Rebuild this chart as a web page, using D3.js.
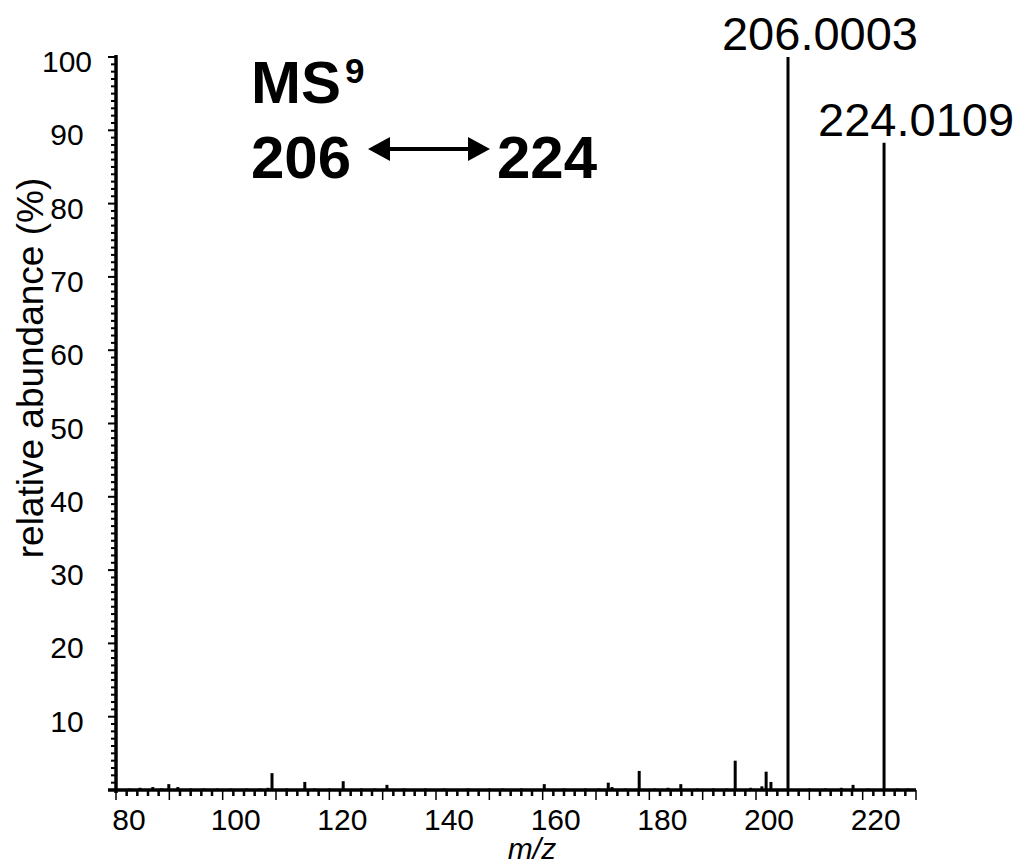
<!DOCTYPE html>
<html><head><meta charset="utf-8">
<script src="https://cdn.jsdelivr.net/npm/d3@7"></script>
<style>body{margin:0;background:#fff;} text{font-family:"Liberation Sans",Arial,sans-serif;}</style>
</head><body>
<svg id="chart" width="1020" height="868"></svg>
<script>
// Data
const mzValues = [82.5,84.5,86.9,88.5,89.9,91.6,94,96.5,99,101.5,104.5,107,108.5,109.25,112,115.4,117.2,120,122.6,126,128.5,130.8,134,138,141.5,146,150,152.5,156,160.3,164,168,170.5,172.3,173.0,175.5,178.1,181,183.5,185.9,189,192,194.5,196.1,199,201.1,201.9,202.8,206.0003,210,213,216,218.2,221,224.0109,226.5,228.5];
const abundance = [0.2,0.3,0.4,0.2,0.8,0.4,0.2,0.2,0.2,0.2,0.2,0.2,0.3,2.3,0.2,1.1,0.2,0.2,1.2,0.2,0.2,0.7,0.2,0.2,0.2,0.2,0.2,0.2,0.2,0.8,0.2,0.2,0.2,1.0,0.4,0.2,2.6,0.2,0.3,0.8,0.2,0.2,0.2,4.0,0.3,0.5,2.5,1.1,100,0.2,0.2,0.3,0.7,0.2,88.3,0.2,0.2];
const peakLabels = [{mz:206.0003, text:"206.0003"},{mz:224.0109, text:"224.0109"}];
const xTickLabels = [80,100,120,140,160,180,200,220];
const yTickLabels = [10,20,30,40,50,60,70,80,90,100];
const xDomain = [80,230];
const yDomain = [0,100];

const svg = d3.select("#chart");
const x = d3.scaleLinear().domain(xDomain).range([116,916]);
const y = d3.scaleLinear().domain(yDomain).range([790,57]);

// peaks
const peaks = mzValues.map((m,i)=>({mz:m, ab:abundance[i]}));
svg.append("g").selectAll("line").data(peaks).join("line")
  .attr("x1",d=>x(d.mz)).attr("x2",d=>x(d.mz))
  .attr("y1",y(0)).attr("y2",d=>y(d.ab))
  .attr("stroke","#000").attr("stroke-width",3);

// x axis minor/major ticks
const xg = svg.append("g");
const minorX = d3.range(80,230.01,2);
xg.selectAll("line.mx").data(minorX).join("line")
  .attr("x1",d=>x(d)).attr("x2",d=>x(d))
  .attr("y1",y(0)).attr("y2",d=> (d%10===0)? y(0)+10 : y(0)+6)
  .attr("stroke","#000").attr("stroke-width",d=> (d%10===0)?1.5:2.5);
xg.append("line").attr("x1",108).attr("x2",916).attr("y1",y(0)).attr("y2",y(0))
  .attr("stroke","#000").attr("stroke-width",3.5);
xg.selectAll("text").data(xTickLabels).join("text")
  .attr("x",d=>x(d)+13).attr("y",830).attr("text-anchor","middle")
  .attr("font-size",30).text(d=>d);

// y axis
const yg = svg.append("g");
const minorY = d3.range(1,100.01,1);
yg.selectAll("line.my").data(minorY).join("line")
  .attr("x1",116).attr("x2",d=> (d%10===0)?108:111)
  .attr("y1",d=>y(d)).attr("y2",d=>y(d))
  .attr("stroke","#000").attr("stroke-width",2);
yg.append("line").attr("x1",116).attr("x2",116).attr("y1",55).attr("y2",793)
  .attr("stroke","#000").attr("stroke-width",3.5);
yg.selectAll("text").data(yTickLabels).join("text")
  .attr("x",67).attr("y",d=>y(d)+15).attr("text-anchor","middle")
  .attr("font-size",30).text(d=>d);

// axis titles
svg.append("text").attr("transform","translate(43,368) rotate(-90)")
  .attr("text-anchor","middle").attr("font-size",37).text("relative abundance (%)");
svg.append("text").attr("x",532).attr("y",859).attr("text-anchor","middle")
  .attr("font-size",30).attr("font-style","italic").text("m/z");

// peak labels
svg.selectAll("text.pl").data(peakLabels).join("text")
  .attr("x",d=>x(d.mz)+32).attr("y",d=>y(abundance[mzValues.indexOf(d.mz)])-7)
  .attr("text-anchor","middle").attr("font-size",47).text(d=>d.text);

// annotation
svg.append("text").attr("x",251).attr("y",103).attr("font-size",60).attr("font-weight","bold").text("MS");
svg.append("text").attr("x",345).attr("y",83).attr("font-size",35).attr("font-weight","bold").text("9");
svg.append("text").attr("x",251).attr("y",178).attr("font-size",60).attr("font-weight","bold").text("206");
svg.append("text").attr("x",497).attr("y",178).attr("font-size",60).attr("font-weight","bold").text("224");
const ax1 = 368, ax2 = 490, ay = 149, hl = 22, hh = 12;
svg.append("line").attr("x1",ax1+hl-2).attr("x2",ax2-hl+2).attr("y1",ay).attr("y2",ay)
  .attr("stroke","#000").attr("stroke-width",4);
svg.append("path").attr("d",`M${ax1},${ay} L${ax1+hl},${ay-hh} L${ax1+hl},${ay+hh} Z`).attr("fill","#000");
svg.append("path").attr("d",`M${ax2},${ay} L${ax2-hl},${ay-hh} L${ax2-hl},${ay+hh} Z`).attr("fill","#000");
</script>
</body></html>
